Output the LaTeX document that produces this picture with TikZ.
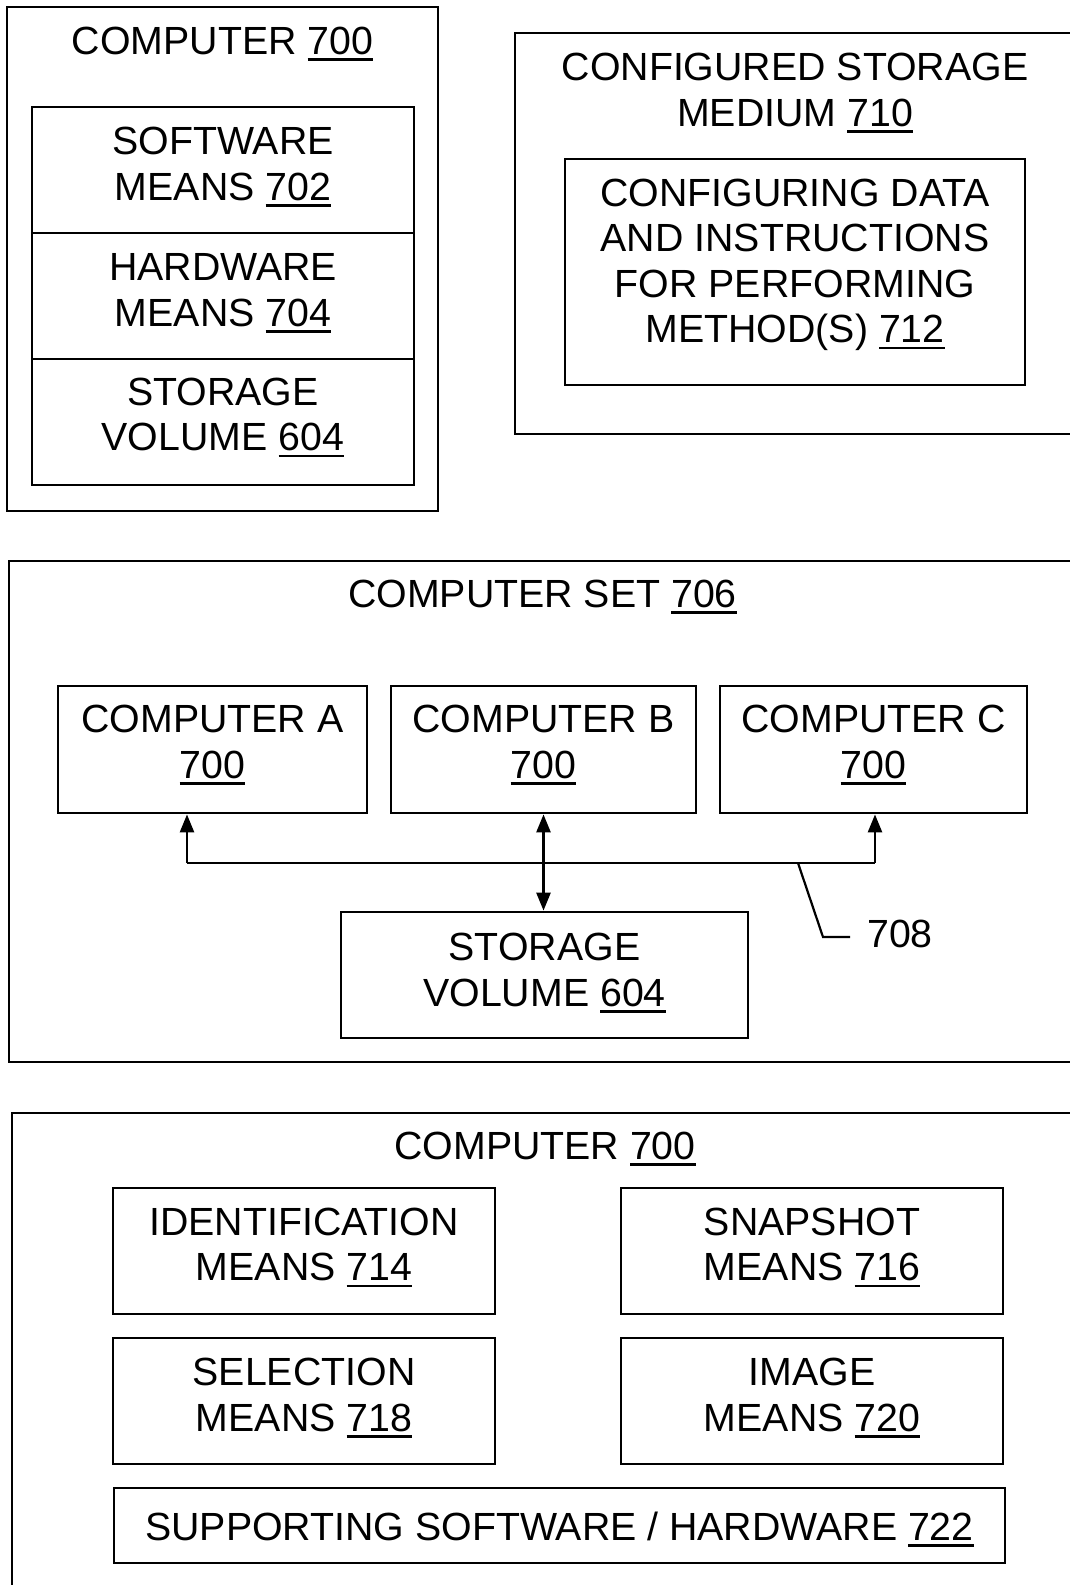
\documentclass[tikz,border=0pt]{standalone}
\usepackage{fontspec}
\setmainfont{Liberation Sans}
\usetikzlibrary{arrows.meta}
\newlength\unw
\newcommand\un[1]{\settowidth\unw{#1}\smash{\rlap{\rule[-6.5pt]{\unw}{2.8pt}}}#1}
\tikzset{
  box/.style={draw, line width=2.8pt, inner sep=0pt},
  lbl/.style={font=\fontsize{39.3}{45.5}\selectfont, align=center, inner sep=0pt, text depth=0pt},
  tipa/.style={-{Triangle[length=18pt,width=14pt]}},
  tipb/.style={{Triangle[length=18pt,width=14pt]}-{Triangle[length=18pt,width=14pt]}},
  conn/.style={line width=2.6pt},
  lead/.style={line width=2.2pt}
}
\begin{document}
\begin{tikzpicture}[x=1pt,y=-1pt]
\clip (0,0) rectangle (1070,1585);
\fill[white] (0,0) rectangle (1070,1585);
% ---------- Computer 700 (top left)
\node[box, minimum width=431pt, minimum height=504pt] (c1) at (222.5,259) {};
\node[lbl] (c1t) at (222.5,41) {COMPUTER \un{700}};
\node[box, minimum width=382pt, minimum height=126pt] (sw) at (223,170) {};
\node[box, minimum width=382pt, minimum height=126pt] (hw) at (223,296) {};
\node[box, minimum width=382pt, minimum height=126pt] (sv) at (223,422) {};
\node[lbl] (swt) at (223,164) {SOFTWARE\\MEANS \un{702}};
\node[lbl] (hwt) at (223,290) {HARDWARE\\MEANS \un{704}};
\node[lbl] (svt) at (223,414.5) {STORAGE\\VOLUME \un{604}};
% ---------- Configured storage medium 710
\node[box, minimum width=585pt, minimum height=401pt] (m710) at (807.5,233.5) {};
\node[lbl] (m710t) at (795,90) {CONFIGURED STORAGE\\MEDIUM \un{710}};
\node[box, minimum width=460pt, minimum height=226pt] (d712) at (795,272) {};
\node[lbl] (d712t) at (795,261) {CONFIGURING DATA\\AND INSTRUCTIONS\\FOR PERFORMING\\METHOD(S) \un{712}};
% ---------- Computer set 706
\node[box, minimum width=1091pt, minimum height=501pt] (set) at (554.5,811.5) {};
\node[lbl] (sett) at (542.5,594) {COMPUTER SET \un{706}};
\node[box, minimum width=309pt, minimum height=127pt] (A) at (212.5,749.5) {};
\node[box, minimum width=305pt, minimum height=127pt] (B) at (543.5,749.5) {};
\node[box, minimum width=307pt, minimum height=127pt] (C) at (873.5,749.5) {};
\node[lbl] (At) at (212.5,742) {COMPUTER A\\\un{700}};
\node[lbl] (Bt) at (543.5,742) {COMPUTER B\\\un{700}};
\node[lbl] (Ct) at (873.5,742) {COMPUTER C\\\un{700}};
\node[box, minimum width=407pt, minimum height=126pt] (S) at (544.5,975) {};
\node[lbl] (St) at (544.5,970) {STORAGE\\VOLUME \un{604}};
\coordinate (busL) at (187,863);
\coordinate (busR) at (875,863);
\draw[conn] (busL) -- (busR);
\draw[conn,tipa] (busL) -- (busL |- A.south);
\draw[conn,tipa] (busR) -- (busR |- C.south);
\draw[conn,tipb] (B.south) -- (B.south |- S.north);
\coordinate (l1) at (798,863);
\coordinate (l2) at (823,937);
\coordinate (l3) at (850,937);
\draw[lead] (l1) -- (l2) -- (l3);
\node[lbl, anchor=west] (n708) at (867,934) {708};
% ---------- Computer 700 (bottom)
\node[box, minimum width=1088pt, minimum height=507pt] (c2) at (556,1366.5) {};
\node[lbl] (c2t) at (545,1146) {COMPUTER \un{700}};
\node[box, minimum width=382pt, minimum height=126pt] (Id) at (304,1251) {};
\node[box, minimum width=382pt, minimum height=126pt] (Sn) at (812,1251) {};
\node[box, minimum width=382pt, minimum height=126pt] (Se) at (304,1401) {};
\node[box, minimum width=382pt, minimum height=126pt] (Im) at (812,1401) {};
\node[box, minimum width=891pt, minimum height=75pt] (Su) at (559.5,1525.5) {};
\node[lbl] (Idt) at (304,1244.5) {IDENTIFICATION\\MEANS \un{714}};
\node[lbl] (Snt) at (812,1244.5) {SNAPSHOT\\MEANS \un{716}};
\node[lbl] (Set) at (304,1395) {SELECTION\\MEANS \un{718}};
\node[lbl] (Imt) at (812,1395) {IMAGE\\MEANS \un{720}};
\node[lbl] (Sut) at (559.5,1526) {SUPPORTING SOFTWARE / HARDWARE \un{722}};
\end{tikzpicture}
\end{document}
